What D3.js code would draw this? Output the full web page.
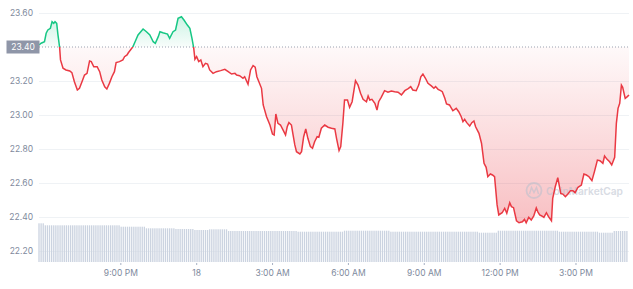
<!DOCTYPE html>
<html>
<head>
<meta charset="utf-8">
<script src="https://cdn.jsdelivr.net/npm/d3@7"></script>
<style>
  body { margin: 0; background: #fff; }
  text { font-family: Inter, "Noto Sans", sans-serif; }
</style>
</head>
<body>
<div id="chart-area"></div>
<script>

var width = 633,
    height = 289;

// opening price = reference line
var openPrice = 23.40;
var yTicks = [22.20, 22.40, 22.60, 22.80, 23.00, 23.20, 23.40, 23.60];

// minutes after 17:00 on the 17th, and price
var priceMin = [47,52,60,64,68,74,78,82,85,89,92,96,98,104,111,120,125,131,138,143,149,155,161,167,171,177,185,191,196,203,
  208,214,220,226,230,238,246,250,256,259,264,270,275,282,294,302,310,318,323,330,334,341,352,357,365,371,377,385,391,399,
  405,410,414,417,421,426,431,436,442,447,452,460,468,478,488,496,504,512,516,523,531,535,543,549,555,560,564,575,579,587,
  595,601,605,609,614,620,626,632,636,640,646,650,654,658,666,670,675,680,685,691,696,701,707,711,717,725,733,741,749,753,
  759,763,768,772,779,784,790,798,804,810,816,824,828,832,837,844,849,853,859,867,875,883,891,899,907,915,923,929,934,942,
  948,953,958,964,970,978,984,988,994,1000,1004,1010,1014,1021,1029,1037,1043,1049,1053,1057,1062,1069,1074,1079,1083,1091,1097,1103,1108,1112,
  1118,1123,1128,1134,1138,1146,1152,1157,1164,1168,1173,1180,1186,1194,1199,1203,1209,1215,1221,1227,1231,1235,1240,1245,1251,1256,1263,1266,1272,1278,
  1285,1290,1296,1302,1308,1314,1319,1326,1334,1340,1346,1352,1359,1365,1372,1378,1385,1389,1395,1401,1406,1413,1417,1421,1425,1429,1432,1438,1443,1447];

var priceVal = [23.412,23.422,23.431,23.481,23.500,23.510,23.549,23.539,23.549,23.539,23.471,23.396,23.324,23.275,23.265,23.259,23.249,23.196,23.147,23.157,
  23.196,23.235,23.245,23.318,23.314,23.284,23.284,23.255,23.206,23.166,23.153,23.186,23.225,23.255,23.308,23.314,23.324,23.343,23.353,23.366,
  23.382,23.402,23.431,23.471,23.506,23.490,23.471,23.431,23.422,23.461,23.490,23.484,23.476,23.451,23.490,23.500,23.569,23.578,23.559,23.529,
  23.510,23.451,23.396,23.328,23.343,23.314,23.324,23.284,23.304,23.300,23.265,23.245,23.255,23.261,23.269,23.255,23.241,23.245,23.235,23.231,
  23.216,23.225,23.181,23.265,23.290,23.281,23.225,23.157,23.059,22.990,22.941,22.888,22.882,23.006,22.951,22.941,22.912,22.882,22.931,22.955,
  22.941,22.882,22.824,22.784,22.771,22.784,22.872,22.918,22.863,22.814,22.804,22.843,22.872,22.869,22.922,22.941,22.928,22.922,22.918,22.863,
  22.791,22.814,22.951,23.088,23.088,23.045,23.078,23.202,23.176,23.128,23.092,23.078,23.112,23.088,23.092,23.069,23.029,23.078,23.104,23.143,
  23.134,23.141,23.137,23.134,23.118,23.143,23.155,23.167,23.147,23.143,23.176,23.225,23.241,23.216,23.186,23.171,23.157,23.167,23.151,23.143,
  23.137,23.098,23.065,23.059,23.025,23.039,23.019,22.990,22.961,22.975,22.955,22.935,22.955,22.965,22.931,22.892,22.834,22.716,22.692,22.637,
  22.653,22.647,22.637,22.471,22.412,22.425,22.451,22.422,22.484,22.461,22.455,22.378,22.366,22.372,22.386,22.366,22.398,22.382,22.406,22.453,
  22.429,22.412,22.406,22.398,22.425,22.402,22.378,22.510,22.578,22.631,22.539,22.535,22.519,22.535,22.555,22.555,22.543,22.575,22.588,22.653,
  22.647,22.637,22.614,22.667,22.735,22.731,22.716,22.759,22.739,22.725,22.706,22.751,22.951,23.039,23.069,23.176,23.163,23.098,23.108,23.118];

// volume bars, one per 5 minutes from the first price time (millions)
var volStart = 47, volStep = 5;
var volume = [387,387,387,
  367,367,367,367,367,367,367,367,367,367,367,367,
  367,367,367,367,367,367,367,367,367,367,367,367,
  367,367,367,367,367,367,367,367,367,367,367,367,
  353,353,353,353,353,353,353,353,353,353,353,353,
  337,337,337,337,337,337,337,337,337,337,337,337,337,337,
  330,330,330,330,330,330,330,330,330,
  320,320,320,320,320,320,320,
  327,327,327,327,327,327,327,327,327,
  310,310,310,310,310,310,310,310,310,310,310,310,
  310,310,310,310,310,310,310,310,310,310,310,310,
  310,310,310,310,310,310,310,310,310,
  303,303,303,303,303,303,303,303,303,303,303,303,
  303,303,303,303,303,303,303,303,303,303,
  313,313,313,313,313,313,313,313,313,313,313,313,
  313,313,313,313,313,313,313,313,313,313,
  303,303,303,303,303,303,303,303,303,303,303,303,
  303,303,303,303,303,303,303,303,303,303,303,303,
  303,303,303,303,303,303,303,303,303,303,303,303,
  303,303,303,303,303,303,
  293,293,293,293,293,293,293,293,293,
  313,313,313,313,313,313,313,313,313,313,313,313,
  313,313,313,313,313,313,313,313,313,313,313,313,
  313,313,313,313,313,
  303,303,303,303,303,303,303,303,303,303,303,303,
  303,303,303,303,303,303,303,
  293,293,293,293,293,293,293,
  310,310,310,310,310,310,310];

var base = new Date(2021, 9, 17, 17, 0);
function toDate(m) { return d3.timeMinute.offset(base, m); }

var data = priceMin.map(function(m, i) { return { t: toDate(m), v: priceVal[i] }; });

var svg = d3.select("#chart-area").append("svg")
    .attr("width", width)
    .attr("height", height);

var x = d3.scaleTime()
    .domain(d3.extent(data, d => d.t))
    .range([39, 629]);

var y = d3.scaleLinear()
    .domain([22.20, 23.60])
    .range([251, 13]);

var yVol = d3.scaleLinear()
    .domain([0, 400])
    .range([262, 222]);

var defs = svg.append("defs");

var y0 = y(openPrice);

defs.append("clipPath").attr("id", "clip-up")
  .append("rect").attr("x", 0).attr("y", 0).attr("width", width).attr("height", y0);
defs.append("clipPath").attr("id", "clip-down")
  .append("rect").attr("x", 0).attr("y", y0).attr("width", width).attr("height", height - y0);

var gUp = defs.append("linearGradient").attr("id", "grad-up")
    .attr("gradientUnits", "userSpaceOnUse")
    .attr("x1", 0).attr("x2", 0).attr("y1", y(23.58)).attr("y2", y0);
gUp.append("stop").attr("offset", 0).attr("stop-color", "#16c784").attr("stop-opacity", 0.22);
gUp.append("stop").attr("offset", 1).attr("stop-color", "#16c784").attr("stop-opacity", 0.03);

var gDown = defs.append("linearGradient").attr("id", "grad-down")
    .attr("gradientUnits", "userSpaceOnUse")
    .attr("x1", 0).attr("x2", 0).attr("y1", y0).attr("y2", y(22.36));
gDown.append("stop").attr("offset", 0).attr("stop-color", "#ea3943").attr("stop-opacity", 0.03);
gDown.append("stop").attr("offset", 1).attr("stop-color", "#ea3943").attr("stop-opacity", 0.32);

// y grid + labels
var yAxis = svg.append("g")
    .attr("transform", "translate(39,0)")
    .call(d3.axisLeft(y).tickValues(yTicks).tickFormat(d3.format(".2f")).tickSize(-590).tickPadding(6));
yAxis.select(".domain").remove();
yAxis.selectAll(".tick line").attr("stroke", "#eff2f5");
yAxis.selectAll(".tick text")
    .attr("fill", "#808a9d")
    .style("font-size", "8.5px")
    .attr("x", -6);
yAxis.selectAll(".tick").filter(d => Math.abs(d - openPrice) < 1e-6).remove();

// volume bars
svg.append("g").selectAll("rect")
    .data(volume)
    .enter()
    .append("rect")
    .attr("x", (d, i) => x(toDate(volStart + i * volStep)) - 0.65)
    .attr("width", 1.3)
    .attr("y", d => yVol(d))
    .attr("height", d => yVol(0) - yVol(d))
    .attr("fill", "#cbd3e0");

// x axis
var fmt = function(d) {
  return d.getHours() === 0 ? d3.timeFormat("%-d")(d) : d3.timeFormat("%-I:%M %p")(d);
};
var xTicks = x.ticks(d3.timeHour.every(3)).filter(d => x(d) > 70);
var xAxis = svg.append("g")
    .attr("transform", "translate(0,263)")
    .call(d3.axisBottom(x).tickValues(xTicks).tickFormat(fmt).tickSize(2).tickPadding(5));
xAxis.select(".domain").remove();
xAxis.selectAll(".tick line").attr("stroke", "#a6b0c3");
xAxis.selectAll(".tick text").attr("fill", "#808a9d").style("font-size", "8.5px");

// areas
var area = d3.area()
    .x(d => x(d.t))
    .y0(y0)
    .y1(d => y(d.v));

svg.append("path").datum(data)
    .attr("d", area).attr("fill", "url(#grad-up)").attr("clip-path", "url(#clip-up)");
svg.append("path").datum(data)
    .attr("d", area).attr("fill", "url(#grad-down)").attr("clip-path", "url(#clip-down)");

// watermark
var wm = svg.append("g").attr("opacity", 0.55);
wm.append("circle").attr("cx", 534).attr("cy", 190.5).attr("r", 7.5)
    .attr("fill", "none").attr("stroke", "#b9c0cd").attr("stroke-width", 1.8);
wm.append("path")
    .attr("d", "M529.5,194 L531.5,187.5 L534,192.5 L536.5,187.5 L538.5,194")
    .attr("fill", "none").attr("stroke", "#b9c0cd").attr("stroke-width", 1.5);
wm.append("text").attr("x", 546).attr("y", 194.5)
    .text("CoinMarketCap")
    .attr("fill", "#b9c0cd")
    .style("font-size", "10.2px").style("font-weight", 600);

// reference line at open price
svg.append("line")
    .attr("x1", 39).attr("x2", 629)
    .attr("y1", y0).attr("y2", y0)
    .attr("stroke", "#9aa1b0")
    .attr("stroke-dasharray", "1,2");

// price line, green above / red below
var line = d3.line()
    .x(d => x(d.t))
    .y(d => y(d.v));

svg.append("path").datum(data)
    .attr("d", line).attr("fill", "none").attr("stroke", "#16c784").attr("stroke-width", 1.5)
    .attr("clip-path", "url(#clip-up)");
svg.append("path").datum(data)
    .attr("d", line).attr("fill", "none").attr("stroke", "#ea3943").attr("stroke-width", 1.5)
    .attr("clip-path", "url(#clip-down)");

// open price label
svg.append("rect")
    .attr("x", 6.5).attr("y", y0 - 6.5)
    .attr("width", 33).attr("height", 13)
    .attr("fill", "#8f96a8");
svg.append("text")
    .attr("x", 23).attr("y", y0)
    .attr("dy", "0.35em")
    .attr("text-anchor", "middle")
    .attr("fill", "#fff")
    .style("font-size", "8.5px")
    .text(d3.format(".2f")(openPrice));

</script>
</body>
</html>
